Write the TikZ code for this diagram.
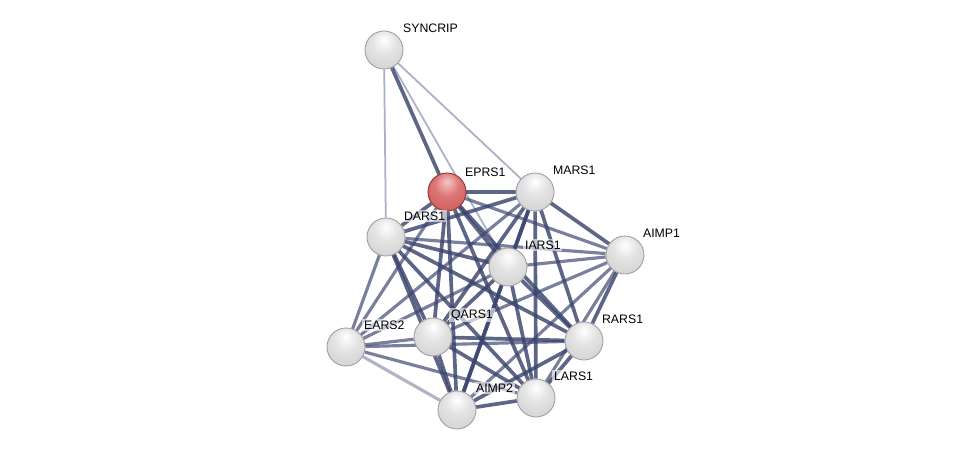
\documentclass[tikz,border=0pt]{standalone}
\usepackage{fontspec}
\setmainfont{Liberation Sans}
\usepackage{xcolor}
\usetikzlibrary{backgrounds}
\definecolor{edgecol}{RGB}{58,68,110}
\definecolor{weakcol}{RGB}{170,176,200}
\definecolor{seeda}{RGB}{245,200,200}
\definecolor{seedb}{RGB}{222,118,118}
\definecolor{seedc}{RGB}{200,85,85}
\definecolor{seedd}{RGB}{140,50,50}
\pgfdeclareradialshading{protball}{\pgfpoint{0bp}{14bp}}{color(0bp)=(white); color(16bp)=(gray!22); color(36bp)=(gray!36); color(52bp)=(gray!55); color(64bp)=(gray!80)}
\pgfdeclareradialshading{seedball}{\pgfpoint{0bp}{14bp}}{color(0bp)=(seeda); color(16bp)=(seedb); color(40bp)=(seedc); color(54bp)=(seedc!80!black); color(64bp)=(seedd)}

\begin{document}
\begin{tikzpicture}[x=0.02cm,y=-0.02cm,
  prot/.style={circle,minimum size=0.76cm,inner sep=0pt,draw=gray!75,line width=0.5pt,shading=protball},
  seed/.style={prot,draw=seedd,shading=seedball},
  lbl/.style={anchor=west,inner sep=1pt,fill=white,fill opacity=0.6,text opacity=1,font=\fontsize{7}{8}\selectfont},
  strong/.style={edgecol,line width=2.1pt,opacity=0.82},
  mid/.style={edgecol,line width=1.8pt,opacity=0.68},
  weak/.style={weakcol,line width=1pt}]
\useasboundingbox (0,0) rectangle (975,456);
% ---- proteine ----
\node[prot] (syncrip) at (384,50) {};
\node[seed] (eprs) at (447,192) {};
\node[prot] (mars) at (535,192) {};
\node[prot] (dars) at (386,237) {};
\node[prot] (iars) at (508,267) {};
\node[prot] (aimpa) at (625,255) {};
\node[prot] (ears) at (346,347) {};
\node[prot] (qars) at (433,337) {};
\node[prot] (rars) at (584,341) {};
\node[prot] (aimpb) at (457,410) {};
\node[prot] (lars) at (536,398) {};
% ---- etichette ----
\node[lbl] (t-syncrip) at (401,28) {SYNCRIP};
\node[lbl] (t-eprs) at (463,172) {EPRS1};
\node[lbl] (t-mars) at (551,170) {MARS1};
\node[lbl] (t-dars) at (402,216) {DARS1};
\node[lbl] (t-iars) at (523,245) {IARS1};
\node[lbl] (t-aimpa) at (641,233) {AIMP1};
\node[lbl] (t-ears) at (362,325) {EARS2};
\node[lbl] (t-qars) at (449,315) {QARS1};
\node[lbl] (t-rars) at (600,319) {RARS1};
\node[lbl] (t-aimpb) at (474,388) {AIMP2};
\node[lbl] (t-lars) at (552,376) {LARS1};
% ---- archi ----
\begin{scope}[on background layer]
  \draw[weak] (syncrip) -- (dars);
  \draw[weak] (syncrip) -- (iars);
  \draw[weak] (syncrip) -- (mars);
  \draw[strong] (syncrip) -- (eprs);
  \foreach \a/\b in {eprs/mars,eprs/dars,eprs/iars,eprs/qars,eprs/aimpb,eprs/lars,eprs/rars,
      mars/dars,mars/iars,mars/aimpa,mars/qars,mars/rars,mars/lars,mars/aimpb,
      dars/iars,dars/qars,dars/aimpb,dars/lars,dars/rars,
      iars/qars,iars/rars,iars/lars,iars/aimpb,
      qars/rars,qars/aimpb,qars/lars,rars/lars,rars/aimpb,aimpb/lars,aimpa/rars}
    \draw[strong] (\a) -- (\b);
  \foreach \a/\b in {eprs/aimpa,dars/aimpa,iars/aimpa,aimpa/qars,aimpa/lars,aimpa/aimpb,
      ears/dars,ears/eprs,ears/mars,ears/iars,ears/qars,ears/rars,ears/lars}
    \draw[mid] (\a) -- (\b);
  \draw[mid,opacity=0.4] (ears) -- (aimpb);
\end{scope}
\end{tikzpicture}
\end{document}
